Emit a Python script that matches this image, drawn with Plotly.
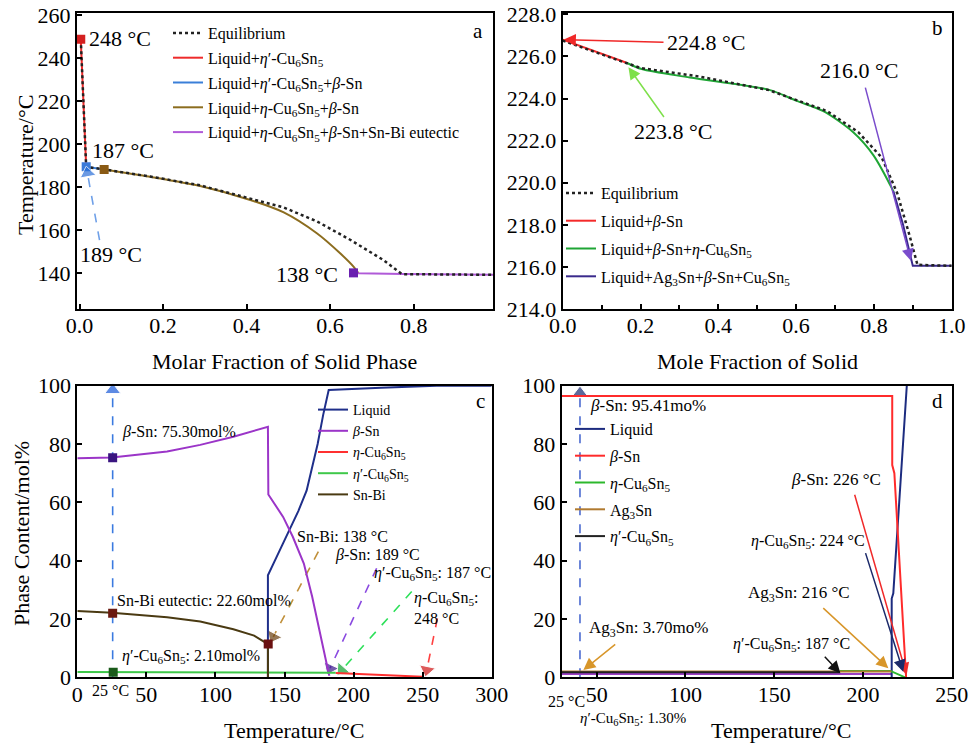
import plotly.graph_objects as go

W, H = 971, 745
FONT = "Liberation Serif, Times New Roman, DejaVu Serif, serif"

# ---------------- Panel a data ----------------
a_red_x = [0.003, 0.016]
a_red_y = [248.7, 189.4]
a_blue_x = [0.016, 0.059]
a_blue_y = [189.4, 188.2]
a_brown_x = [0.059, 0.169, 0.289, 0.409, 0.489, 0.569, 0.624, 0.656, 0.668]
a_brown_y = [188.2, 184.8, 180.5, 174.0, 168.2, 158.4, 149.2, 143.0, 139.9]
a_purple_x = [0.656, 0.668, 0.776, 0.99]
a_purple_y = [140.1, 139.9, 139.6, 139.2]
a_eq_x = [0.003, 0.016, 0.059, 0.169, 0.289, 0.409, 0.489, 0.569, 0.648, 0.728, 0.772, 0.99]
a_eq_y = [248.7, 189.4, 188.2, 184.9, 180.8, 174.6, 170.5, 164.0, 155.5, 146.0, 139.5, 139.2]
a_mark_x = [0.003, 0.016, 0.059, 0.656]
a_mark_y = [248.7, 189.4, 188.2, 140.1]
a_mark_c = ["#d42020", "#3a7ad8", "#8a5a14", "#6a20b0"]

# ---------------- Panel b data ----------------
b_red_x = [0.0, 0.164]
b_red_y = [226.8, 225.7]
b_green_x = [0.164, 0.203, 0.327, 0.533, 0.60, 0.67, 0.747, 0.799, 0.85]
b_green_y = [225.7, 225.4, 225.0, 224.4, 223.9, 223.4, 222.4, 221.3, 219.6]
b_purple_x = [0.85, 0.875, 0.9, 1.0]
b_purple_y = [219.6, 218.0, 216.05, 216.05]
b_eq_x = [0.0, 0.2, 0.35, 0.53, 0.68, 0.76, 0.82, 0.86, 0.89, 0.912, 1.0]
b_eq_y = [226.75, 225.45, 225.05, 224.4, 223.4, 222.4, 221.2, 219.5, 217.6, 216.1, 216.05]

# ---------------- Panel c data ----------------
c_liq_x = [138, 138, 145, 152, 160, 166, 170, 174, 178, 182, 220, 260, 300]
c_liq_y = [0, 35, 42, 49, 57, 64, 72, 80, 90, 98.5, 99.3, 100, 100]
c_bsn_x = [0, 25, 65, 89, 113, 138, 138.3, 149, 156, 164, 170, 176, 182, 182.5]
c_bsn_y = [75.1, 75.4, 77.4, 79.7, 82.5, 85.9, 62.7, 55, 48.2, 39, 27.7, 14, 1.4, 0.5]
c_snbi_x = [0, 25, 65, 89, 113, 128, 138, 138]
c_snbi_y = [22.7, 22.1, 20.6, 19.1, 16.5, 14.3, 11.4, 0]
c_etap_x = [0, 187]
c_etap_y = [1.8, 1.6]
c_eta_x = [187, 250]
c_eta_y = [1.5, 0.2]
c_mark_x = [25.6, 25.6, 26.0, 138.2]
c_mark_y = [75.3, 22.0, 1.7, 11.4]
c_mark_c = ["#3a1580", "#6a1a10", "#1a5a1a", "#6a1010"]

# ---------------- Panel d data ----------------
d_liq_x = [216.2, 216.2, 217.1, 224.7]
d_liq_y = [0, 27, 28.8, 100]
d_bsn_x = [25, 216.5, 216.5, 217.7, 224.3]
d_bsn_y = [96.5, 96.5, 72.8, 70, 0]
d_eta_x = [187, 215.5, 223.7]
d_eta_y = [2.2, 2.2, 0]
d_ag_x = [25, 216]
d_ag_y = [2.0, 2.0]
d_etap_x = [25, 187]
d_etap_y = [1.7, 1.7]
d_pur_x = [25, 216]
d_pur_y = [1.1, 1.1]

# ---------------- annotation anchors (data coordinates) ----------------
# dashed arrows: (tail_x, tail_y, head_x, head_y, line colour, head colour)
a_dash_arrows = [(0.048, 155.3, 0.019, 186.5, "#6fa0e8", "#2a6fd8")]
c_dash_arrows = [
    (25.6, 0, 25.6, 98.5, "#3a7ae0", "#1a5ad8"),
    (174.5, 43.1, 141.9, 13.9, "#c0903a", "#6a4010"),
    (216.7, 37.4, 183.0, 3.1, "#8a4ae0", "#3a1a8a"),
    (242.1, 29.4, 191.4, 2.5, "#2ee05a", "#10a030"),
    (260.7, 20.2, 253.0, 2.5, "#ff4040", "#d01515"),
]
d_dash_arrows = [(40.6, 0, 40.6, 97.5, "#4a6ad0", "#1a2a70")]
# solid arrows: (tail_x, tail_y, head_x, head_y, colour)
b_arrows = [
    (0.263, 226.67, 0.003, 226.8, "#f02828"),
    (0.263, 223.05, 0.169, 225.49, "#7ee04a"),
    (0.777, 224.59, 0.895, 216.29, "#7a4ccc"),
]
d_arrows = [
    (195.1, 63.1, 224.6, 0.8, "#f02a2a"),
    (201.2, 43.1, 222.7, 1.9, "#1c2a6a"),
    (176.8, 24.2, 214.3, 3.1, "#d8962a"),
    (177.7, 7.6, 187.3, 1.4, "#111111"),
    (61.3, 11.7, 42.5, 2.5, "#d8962a"),
    (73.4, -12.3, 40.6, -0.3, "#111111"),
]

CU = "Cu<sub>6</sub>Sn<sub>5</sub>"
ETA = "<i>η</i>"
ETAP = "<i>η</i>′"
BETA = "<i>β</i>"

fig = go.Figure()


def line(x, y, ax, color, name=None, legend=None, rank=None, width=2,
         dash="solid", shape="linear"):
    fig.add_trace(go.Scatter(
        x=x, y=y, mode="lines", xaxis=ax[0], yaxis=ax[1],
        line=dict(color=color, width=width, dash=dash, shape=shape, smoothing=0.8),
        name=name, showlegend=name is not None,
        legend=legend, legendrank=rank, legendgroup=name,
        hoverinfo="skip"))


def marks(x, y, ax, colors, size=9):
    fig.add_trace(go.Scatter(
        x=x, y=y, mode="markers", xaxis=ax[0], yaxis=ax[1],
        marker=dict(symbol="square", size=size, color=colors),
        showlegend=False, hoverinfo="skip"))


def dash_arrow(t, ax, width=1.6, size=14):
    tx, ty, hx, hy, lc, hc = t
    fig.add_trace(go.Scatter(
        x=[tx, hx], y=[ty, hy], mode="lines", xaxis=ax[0], yaxis=ax[1],
        line=dict(color=lc, width=width, dash="dash"),
        showlegend=False, hoverinfo="skip"))
    fig.add_trace(go.Scatter(
        x=[tx, hx], y=[ty, hy], mode="markers", xaxis=ax[0], yaxis=ax[1],
        marker=dict(symbol="triangle-up", size=[0, size], color=hc,
                    angleref="previous"),
        showlegend=False, hoverinfo="skip", cliponaxis=False))


A = ("x", "y")
B = ("x2", "y2")
C = ("x3", "y3")
D = ("x4", "y4")

# Panel a
line(a_red_x, a_red_y, A, "#ee2b2b", "Liquid+" + ETAP + "-" + CU, "legend", 2)
line(a_blue_x, a_blue_y, A, "#3a7fd8", "Liquid+" + ETAP + "-" + CU + "+" + BETA + "-Sn", "legend", 3)
line(a_brown_x, a_brown_y, A, "#8c6d1f", "Liquid+" + ETA + "-" + CU + "+" + BETA + "-Sn", "legend", 4, shape="spline")
line(a_purple_x, a_purple_y, A, "#b05ad8", "Liquid+" + ETA + "-" + CU + "+" + BETA + "-Sn+Sn-Bi eutectic", "legend", 5)
line(a_eq_x, a_eq_y, A, "#222222", "Equilibrium", "legend", 1, width=2.5, dash="dot")
marks(a_mark_x, a_mark_y, A, a_mark_c)
for t in a_dash_arrows:
    dash_arrow(t, A)

# Panel b
line(b_red_x, b_red_y, B, "#f42a2a", "Liquid+" + BETA + "-Sn", "legend2", 2)
line(b_green_x, b_green_y, B, "#1fa535", "Liquid+" + BETA + "-Sn+" + ETA + "-" + CU, "legend2", 3, shape="spline")
line(b_purple_x, b_purple_y, B, "#3a2a8c", "Liquid+Ag<sub>3</sub>Sn+" + BETA + "-Sn+" + CU, "legend2", 4)
line(b_eq_x, b_eq_y, B, "#222222", "Equilibrium", "legend2", 1, width=2.5, dash="dot")

# Panel c
for t in c_dash_arrows:
    dash_arrow(t, C)
line(c_liq_x, c_liq_y, C, "#1f2f8a", "Liquid", "legend3", 1)
line(c_bsn_x, c_bsn_y, C, "#9b35c8", BETA + "-Sn", "legend3", 2)
line(c_eta_x, c_eta_y, C, "#ff3030", ETA + "-" + CU, "legend3", 3)
line(c_etap_x, c_etap_y, C, "#3fc84a", ETAP + "-" + CU, "legend3", 4)
line(c_snbi_x, c_snbi_y, C, "#4a3a12", "Sn-Bi", "legend3", 5)
marks(c_mark_x, c_mark_y, C, c_mark_c)

# Panel d
for t in d_dash_arrows:
    dash_arrow(t, D)
line(d_pur_x, d_pur_y, D, "#9b3fc4")
line(d_liq_x, d_liq_y, D, "#1c2b7f", "Liquid", "legend4", 1)
line(d_bsn_x, d_bsn_y, D, "#ff2b2b", BETA + "-Sn", "legend4", 2)
line(d_eta_x, d_eta_y, D, "#2db82d", ETA + "-" + CU, "legend4", 3)
line(d_ag_x, d_ag_y, D, "#b07a30", "Ag<sub>3</sub>Sn", "legend4", 4)
line(d_etap_x, d_etap_y, D, "#222222", ETAP + "-" + CU, "legend4", 5)

annotations = []


def txt(x, y, text, xref, yref, size=16, xanchor="left", yanchor="middle", angle=0):
    annotations.append(dict(x=x, y=y, text=text, xref=xref, yref=yref,
                            showarrow=False, xanchor=xanchor, yanchor=yanchor,
                            textangle=angle,
                            font=dict(family=FONT, size=size, color="black")))


def ptxt(px, py, text, size=16, xanchor="center", angle=0):
    txt(px / W, 1 - py / H, text, "paper", "paper", size, xanchor, "middle", angle)


def solid_arrow(t, ax):
    tx, ty, hx, hy, col = t
    annotations.append(dict(x=hx, y=hy, ax=tx, ay=ty, xref=ax[0], yref=ax[1],
                            axref=ax[0], ayref=ax[1], text="", showarrow=True,
                            arrowhead=2, arrowsize=1.6, arrowwidth=1.5,
                            arrowcolor=col, standoff=0, startstandoff=0))


# panel a texts
txt(0.018, 249.3, "248 °C", "x", "y", 22)
txt(0.026, 197.2, "187 °C", "x", "y", 22)
txt(-0.003, 148.8, "189 °C", "x", "y", 22)
txt(0.624, 139.5, "138 °C", "x", "y", 22, xanchor="right")
ptxt(478, 31, "a", 21)

# panel b texts
txt(0.263, 226.68, "224.8 °C", "x2", "y2", 22)
txt(0.178, 222.43, "223.8 °C", "x2", "y2", 22)
txt(0.656, 225.31, "216.0 °C", "x2", "y2", 22)
ptxt(937, 28, "b", 21)
for t in b_arrows:
    solid_arrow(t, B)

# panel c texts
txt(31, 84.2, BETA + "-Sn: 75.30mol%", "x3", "y3", 16)
txt(27.3, 26.5, "Sn-Bi eutectic: 22.60mol%", "x3", "y3", 16)
txt(31, 7.1, ETAP + "-" + CU + ": 2.10mol%", "x3", "y3", 16)
txt(157.6, 48.2, "Sn-Bi: 138 °C", "x3", "y3", 16)
txt(185.4, 41.9, BETA + "-Sn: 189 °C", "x3", "y3", 16)
txt(213.1, 35.7, ETAP + "-" + CU + ": 187 °C", "x3", "y3", 16)
txt(242.1, 27.1, ETA + "-" + CU + ":", "x3", "y3", 16)
txt(242.1, 20.2, "248 °C", "x3", "y3", 16)
ptxt(110, 690, "25 °C", 16)
ptxt(480, 401, "c", 21)

# panel d texts
txt(45.3, 93.1, BETA + "-Sn: 95.41mo%", "x4", "y4", 17)
txt(211.5, 68, BETA + "-Sn: 226 °C", "x4", "y4", 17, xanchor="right")
txt(202.1, 46.5, ETA + "-" + CU + ": 224 °C", "x4", "y4", 16, xanchor="right")
txt(193.7, 28.6, "Ag<sub>3</sub>Sn: 216 °C", "x4", "y4", 17, xanchor="right")
txt(193.7, 11.1, ETAP + "-" + CU + ": 187 °C", "x4", "y4", 16, xanchor="right")
txt(44.4, 16.6, "Ag<sub>3</sub>Sn: 3.70mo%", "x4", "y4", 17)
ptxt(566, 701, "25 °C", 16)
ptxt(633, 718.5, ETAP + "-" + CU + ": 1.30%", 15)
ptxt(937, 401, "d", 21)
for t in d_arrows:
    solid_arrow(t, D)

# axis titles
ptxt(284, 362, "Molar Fraction of Solid Phase", 22)
ptxt(757, 362, "Mole Fraction of Solid", 22)
ptxt(25, 165, "Temperature/°C", 22, angle=-90)
ptxt(21, 534, "Phase Content/mol%", 22, angle=-90)
ptxt(294, 730, "Temperature/°C", 22)
ptxt(781, 730, "Temperature/°C", 22)

axis_common = dict(showline=True, linecolor="black", linewidth=2, mirror=True,
                   ticks="inside", ticklen=5, tickwidth=1.5, tickcolor="black",
                   showgrid=False, zeroline=False, automargin=False,
                   tickfont=dict(family=FONT, size=22, color="black"))
xstand = dict(ticklabelstandoff=-4)

legend_common = dict(bgcolor="rgba(0,0,0,0)", borderwidth=0, itemwidth=30,
                     xanchor="left", yanchor="top",
                     itemclick=False, itemdoubleclick=False)


def lfont(size):
    return dict(family=FONT, size=size, color="black")


fig.update_layout(
    width=W, height=H, margin=dict(l=0, r=0, t=0, b=0, autoexpand=False),
    paper_bgcolor="white", plot_bgcolor="white",
    font=dict(family=FONT, color="black"),
    xaxis=dict(domain=[77 / W, 493 / W], range=[-0.006, 0.99], dtick=0.2,
               tickformat=".1f", anchor="y", **xstand, **axis_common),
    yaxis=dict(domain=[1 - 309 / H, 1 - 13.3 / H], range=[123.3, 260.8], dtick=20,
               anchor="x", **axis_common),
    xaxis2=dict(domain=[562.7 / W, 951.7 / W], range=[0, 1], dtick=0.2,
                tickformat=".1f", anchor="y2",
                minor=dict(dtick=0.1, ticks="inside", ticklen=4, tickcolor="black"),
                **xstand, **axis_common),
    yaxis2=dict(domain=[1 - 309 / H, 1 - 13.3 / H], range=[214, 228.05], dtick=2,
                tickformat=".1f", anchor="x2", **axis_common),
    xaxis3=dict(domain=[77.3 / W, 491.7 / W], range=[0, 300], dtick=50,
                anchor="y3", **xstand, **axis_common),
    yaxis3=dict(domain=[1 - 677.3 / H, 1 - 385.7 / H], range=[0, 100], dtick=20,
                anchor="x3", **axis_common),
    xaxis4=dict(domain=[561.7 / W, 951.7 / W], range=[30.3, 250], dtick=50, tick0=0,
                anchor="y4", **xstand, **axis_common),
    yaxis4=dict(domain=[1 - 677.3 / H, 1 - 385.7 / H], range=[0, 100], dtick=20,
                anchor="x4", **axis_common),
    legend=dict(x=168 / W, y=1 - 16 / H, tracegroupgap=1, font=lfont(16), **legend_common),
    legend2=dict(x=561 / W, y=1 - 176 / H, tracegroupgap=4, font=lfont(16), **legend_common),
    legend3=dict(x=313 / W, y=1 - 394 / H, tracegroupgap=0, font=lfont(14), **legend_common),
    legend4=dict(x=570 / W, y=1 - 412 / H, tracegroupgap=3, font=lfont(16), **legend_common),
    annotations=annotations,
    showlegend=True,
)

fig.write_html(
    "out.html",
    config={"displayModeBar": False},
    post_script="document.body.style.margin='0';document.body.style.overflow='hidden';",
)
